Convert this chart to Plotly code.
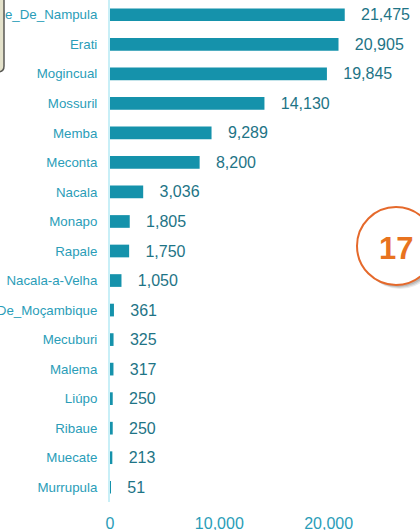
import plotly.graph_objects as go

districts = ["Cidade_De_Nampula", "Erati", "Mogincual", "Mossuril", "Memba", "Meconta",
             "Nacala", "Monapo", "Rapale", "Nacala-a-Velha", "Ilha_De_Moçambique",
             "Mecuburi", "Malema", "Liúpo", "Ribaue", "Muecate", "Murrupula"]
values = [21475, 20905, 19845, 14130, 9289, 8200, 3036, 1805, 1750, 1050,
          361, 325, 317, 250, 250, 213, 51]
x_ticks = [0, 10000, 20000]
x_tick_labels = ["0", "10,000", "20,000"]
badge_text = "17"

W, H = 420, 530
ML, MR, MT, MB = 110, 0, 0, 28
PW, PH = W - ML - MR, H - MT - MB

def px(xp):
    return (xp - ML) / PW

def py(yp):
    return 1 - (yp - MT) / PH

FONT = "Liberation Sans, Arial, sans-serif"

fig = go.Figure()
fig.add_trace(go.Bar(
    y=districts, x=values, orientation="h",
    marker=dict(color="#1592AB", line=dict(width=0)),
    width=0.43,
    texttemplate="   %{x:,}",
    textposition="outside",
    constraintext="none",
    textfont=dict(family=FONT, size=16, color="#1E7486"),
    cliponaxis=False,
    hoverinfo="skip",
))

shapes = []
# top-left partial box
r = 6
x0, x1 = px(-20), px(4)
y0, y1 = py(-5), py(72)
xr = px(4 - r)
yr = py(72 - r)
shapes.append(dict(
    type="path", xref="paper", yref="paper",
    path=f"M {x0} {y0} L {x1} {y0} L {x1} {yr} Q {x1} {y1} {xr} {y1} L {x0} {y1} Z",
    fillcolor="#E4E2CB", line=dict(color="#5A5A55", width=1.5),
))
# badge shadow
cx, cy, rad = 396, 246, 39
for off, alpha in [(4, 0.08), (3, 0.10), (2, 0.12)]:
    shapes.append(dict(
        type="circle", xref="paper", yref="paper",
        x0=px(cx - rad + off), x1=px(cx + rad + off),
        y0=py(cy + rad + off), y1=py(cy - rad + off),
        fillcolor=f"rgba(0,0,0,{alpha})", line=dict(width=0),
    ))
shapes.append(dict(
    type="circle", xref="paper", yref="paper",
    x0=px(cx - rad), x1=px(cx + rad),
    y0=py(cy + rad), y1=py(cy - rad),
    fillcolor="white", line=dict(color="#E5692B", width=2),
))

fig.update_layout(
    width=W, height=H,
    margin=dict(l=ML, r=MR, t=MT, b=MB, autoexpand=False),
    paper_bgcolor="white", plot_bgcolor="white",
    showlegend=False,
    shapes=shapes,
    annotations=[dict(
        text=f"<b>{badge_text}</b>", xref="paper", yref="paper",
        x=px(cx), y=py(cy + 2), showarrow=False,
        font=dict(family=FONT, size=31, color="#E8731F"),
        xanchor="center", yanchor="middle",
    )],
    xaxis=dict(
        range=[0, 28360], tickvals=x_ticks, ticktext=x_tick_labels,
        showgrid=False, zeroline=False, showline=False,
        ticks="outside", ticklen=7, tickcolor="rgba(0,0,0,0)",
        tickfont=dict(family=FONT, size=16, color="#2A9DB8"),
        automargin=False,
    ),
    yaxis=dict(
        autorange="reversed", showgrid=False, zeroline=False,
        showline=True, linecolor="#C8EFF7", linewidth=2,
        ticks="outside", ticklen=8, tickcolor="rgba(0,0,0,0)",
        tickfont=dict(family=FONT, size=13.3, color="#2A9DB8"),
        automargin=False,
    ),
    bargap=0.57,
)

fig.write_html("out.html", config={"displayModeBar": False},
               post_script="document.body.style.margin='0';document.body.style.overflow='hidden';")
